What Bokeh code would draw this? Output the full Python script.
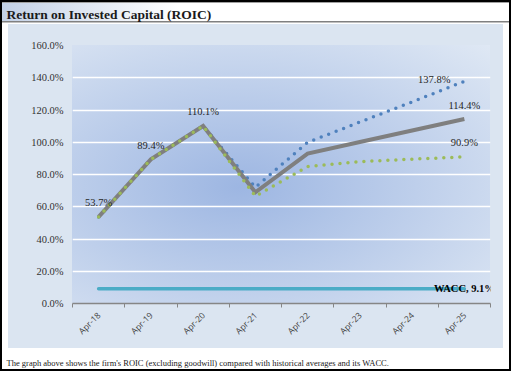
import math
from bokeh.plotting import figure
from bokeh.models import (ColumnDataSource, FixedTicker, Label, LabelSet, Title,
                          CustomJSTickFormatter)
from bokeh.embed import file_html
from bokeh.resources import INLINE

# ---- data ----
categories = ["Apr-18", "Apr-19", "Apr-20", "Apr-21", "Apr-22", "Apr-23", "Apr-24", "Apr-25"]
roic = [53.7, 89.4, 110.1, 69.0, 93.0, 100.2, 107.3, 114.4]
roic_high = [53.7, 89.4, 110.1, 72.0, 100.0, 112.5, 125.0, 137.8]
roic_low = [53.7, 89.4, 110.1, 66.5, 85.0, 88.0, 89.5, 90.9]
wacc = [9.1, 9.1, 9.1, 9.1, 9.1, 9.1, 9.1, 9.1]
y_ticks = [0, 20, 40, 60, 80, 100, 120, 140, 160]

title_text = "Return on Invested Capital (ROIC)"
caption_text = ("The graph above shows the firm's ROIC (excluding goodwill) compared "
                "with historical averages and its WACC.")

xpos = [i + 0.5 for i in range(len(categories))]

W, H = 511, 371
FL, FR, FT, FB = 72, 21, 45, 68
FW, FH = W - FL - FR, H - FT - FB

bg = ", ".join([
    f"radial-gradient(ellipse farthest-corner at 40% 55%, #9db6e2 0%, #dfe8f4 100%) {FL}px {FT}px / {FW}px {FH}px no-repeat",
    "linear-gradient(#dbe5f1, #dbe5f1) 8px 24px / 495px 324px no-repeat",
    "linear-gradient(#808080, #808080) 2px 21px / 507px 1.5px no-repeat",
    "linear-gradient(#a0a0a0, #a0a0a0) 2px 2px / 507px 1px no-repeat",
    "linear-gradient(to right, #c3d1e6 0%, #ffffff 35%, #ffffff 100%) 2px 3px / 507px 18px no-repeat",
    "linear-gradient(#ffffff, #ffffff) 2px 2px / 507px 367px no-repeat",
    "#000000",
])

SERIF = "Liberation Serif"

p = figure(width=W, height=H, x_range=(0, 8), y_range=(0, 160),
           output_backend="svg", toolbar_location=None,
           min_border_left=FL, min_border_right=FR, min_border_top=FT, min_border_bottom=FB)
p.styles = {"position": "absolute", "left": "0px", "top": "0px", "background": bg}
p.background_fill_alpha = 0
p.border_fill_alpha = 0
p.outline_line_color = None
p.title.visible = False

# spacer + title above the frame
p.add_layout(Title(text=" ", standoff=5, text_font=SERIF, text_font_size="13.5px"), "above")
p.add_layout(Title(text=title_text, align="left", offset=-66, vertical_align="top",
                   standoff=0, text_font=SERIF, text_font_style="bold",
                   text_font_size="13.5px", text_color="#1a1a1a"), "above")

# spacer + caption below the axis
p.add_layout(Title(text=" ", standoff=0, text_font=SERIF, text_font_size="8.5px"), "below")
p.add_layout(Title(text=caption_text, align="left", offset=-66, vertical_align="bottom",
                   standoff=0, text_font=SERIF, text_font_style="normal",
                   text_font_size="8.5px", text_color="#1a1a1a"), "below")

# grid
p.xgrid.visible = False
p.ygrid.ticker = FixedTicker(ticks=y_ticks)
p.ygrid.grid_line_color = "white"
p.ygrid.grid_line_width = 1.5

# y axis
p.yaxis.ticker = FixedTicker(ticks=y_ticks)
p.yaxis.formatter = CustomJSTickFormatter(code="return tick.toFixed(1) + '%';")
p.yaxis.axis_line_color = None
p.yaxis.major_tick_line_color = None
p.yaxis.minor_tick_line_color = None
p.yaxis.major_tick_out = 0
p.yaxis.major_tick_in = 0
p.yaxis.major_label_standoff = 9
p.yaxis.major_label_text_font = SERIF
p.yaxis.major_label_text_font_size = "10.5px"
p.yaxis.major_label_text_color = "#333333"

# x axis
p.xaxis.ticker = FixedTicker(ticks=xpos, minor_ticks=list(range(len(categories) + 1)))
p.xaxis.major_label_overrides = {x: c for x, c in zip(xpos, categories)}
p.xaxis.axis_line_color = "#868686"
p.xaxis.axis_line_width = 1.5
p.xaxis.major_tick_line_color = None
p.xaxis.major_tick_out = 0
p.xaxis.major_tick_in = 0
p.xaxis.minor_tick_line_color = "#868686"
p.xaxis.minor_tick_line_width = 1
p.xaxis.minor_tick_out = 4
p.xaxis.minor_tick_in = 0
p.xaxis.major_label_orientation = math.pi / 4
p.xaxis.major_label_standoff = 6
p.xaxis.major_label_text_font = "Open Sans"
p.xaxis.major_label_text_font_size = "8.5px"
p.xaxis.major_label_text_color = "#404040"

src = ColumnDataSource(dict(x=xpos, roic=roic, high=roic_high, low=roic_low, wacc=wacc))

p.line("x", "wacc", source=src, line_color="#4bacc6", line_width=3.5, line_cap="round")
p.line("x", "high", source=src, line_color="#4f81bd", line_width=3.5,
       line_dash="0 8", line_cap="round")
p.line("x", "roic", source=src, line_color="#7f7f7f", line_width=4, line_join="miter")
p.line("x", "low", source=src, line_color="#9bbb59", line_width=3.5,
       line_dash="0 8", line_cap="round")

lab_size = "10.5px"
lab_color = "#262626"

hist = ColumnDataSource(dict(x=xpos[:3], y=roic[:3], t=[f"{v:.1f}%" for v in roic[:3]]))
p.add_layout(LabelSet(x="x", y="y", text="t", source=hist, text_align="center",
                      text_baseline="middle", y_offset=14, text_font=SERIF,
                      text_font_size=lab_size, text_color=lab_color))
last = len(categories) - 1
p.add_layout(Label(x=xpos[last], y=roic_high[last], text=f"{roic_high[last]:.1f}%",
                   text_align="right", text_baseline="middle", x_offset=-14, y_offset=2,
                   text_font=SERIF, text_font_size=lab_size, text_color=lab_color))
p.add_layout(Label(x=xpos[last], y=roic[last], text=f"{roic[last]:.1f}%",
                   text_align="center", text_baseline="middle", y_offset=14,
                   text_font=SERIF, text_font_size=lab_size, text_color=lab_color))
p.add_layout(Label(x=xpos[last], y=roic_low[last], text=f"{roic_low[last]:.1f}%",
                   text_align="center", text_baseline="middle", y_offset=14,
                   text_font=SERIF, text_font_size=lab_size, text_color=lab_color))
p.add_layout(Label(x=xpos[last], y=wacc[last], text=f"WACC, {wacc[last]:.1f}%",
                   text_align="center", text_baseline="middle",
                   text_font=SERIF, text_font_size=lab_size, text_font_style="bold",
                   text_color="#000000"))

open("out.html", "w").write(file_html(p, INLINE))
